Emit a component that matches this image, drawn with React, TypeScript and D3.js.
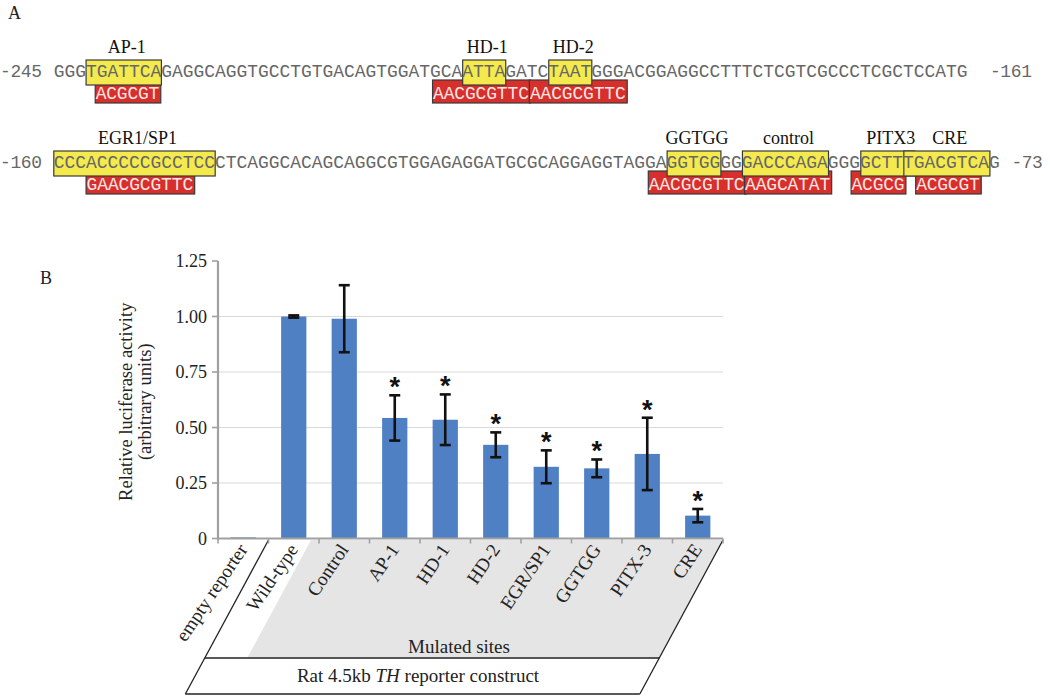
import React from "react";
import * as d3 from "d3";

// ---------- Panel A data ----------
const seqPrefixes = ["-245", "-160"];
const seqSuffixes = ["-161", "-73"];
const suffixGap = [2, 1]; // blank characters before the end coordinate
const seqLines = [
  "GGGTGATTCAGAGGCAGGTGCCTGTGACAGTGGATGCAATTAGATCTAATGGGACGGAGGCCTTTCTCGTCGCCCTCGCTCCATG",
  "CCCACCCCCGCCTCCCTCAGGCACAGCAGGCGTGGAGAGGATGCGCAGGAGGTAGGAGGTGGGGGACCCAGAGGGGCTTTGACGTCAG",
];
// binding sites: line, start index, length, label
const siteLine = [0, 0, 0, 1, 1, 1, 1, 1];
const siteStart = [3, 38, 46, 0, 57, 64, 75, 79];
const siteLen = [7, 4, 4, 15, 5, 8, 5, 8];
const siteLabel = ["AP-1", "HD-1", "HD-2", "EGR1/SP1", "GGTGG", "control", "PITX3", "CRE"];
// mutations: line, start (char units), replacement sequence
const mutLine = [0, 0, 0, 1, 1, 1, 1, 1];
const mutStart = [3.85, 35.2, 44.2, 3.0, 55.25, 64.2, 74.1, 80.1];
const mutSeq = ["ACGCGT", "AACGCGTTC", "AACGCGTTC", "GAACGCGTTC", "AACGCGTTC", "AAGCATAT", "ACGCG", "ACGCGT"];

// ---------- Panel B data ----------
const categories = ["empty reporter", "Wild-type", "Control", "AP-1", "HD-1", "HD-2", "EGR/SP1", "GGTGG", "PITX-3", "CRE"];
const values = [0.005, 1.0, 0.99, 0.543, 0.535, 0.422, 0.323, 0.316, 0.381, 0.103];
const errors = [0, 0.005, 0.151, 0.102, 0.114, 0.056, 0.074, 0.04, 0.163, 0.03];
const significant = [false, false, false, true, true, true, true, true, true, true];
const yTicks = [0, 0.25, 0.5, 0.75, 1.0, 1.25];
const yTickLabels = ["0", "0.25", "0.50", "0.75", "1.00", "1.25"];
const gridTicks = [0.25, 0.5, 0.75, 1.0];

const SERIF = "'Liberation Serif', 'Times New Roman', serif";
const MONO = "'Liberation Mono', 'DejaVu Sans Mono', monospace";

export default function App() {
  const W = 1050, H = 700;
  // Panel A layout
  const charW = 10.76;
  const monoSize = charW / 0.6001;
  const seqX0 = 0;
  const baselines = [77, 168];
  const seqStartX = seqX0 + 5 * charW;
  const cx = (i: number) => seqStartX + i * charW;

  // Panel B scales
  const y = d3.scaleLinear().domain([0, 1.25]).range([538.5, 261]);
  const x = d3.scaleBand<string>().domain(categories).range([218, 723]).paddingInner(0.5).paddingOuter(0.25);
  const step = x.step();
  const bw = x.bandwidth();
  const x0 = x.range()[0];
  const x1 = x.range()[1];
  const boundaries = d3.range(categories.length + 1).map((i) => x0 + i * step);
  const axisY = y(0);

  // bottom annotation geometry
  const topY = axisY + 1.5;
  const midY = 658;
  const botY = 694;
  const slope = -0.54; // dx per dy
  const leftTop = boundaries[1];
  const rightTop = x1;
  const lx = (yy: number) => leftTop + slope * (yy - topY);
  const rx = (yy: number) => rightTop + slope * (yy - topY);
  const grayTop = boundaries[2] - 8;
  const gx = (yy: number) => grayTop + slope * (yy - topY);

  return (
    <svg width={W} height={H} style={{ position: "absolute", left: 0, top: 0, background: "#fff" }}>
      {/* Panel labels */}
      <text x={8} y={19} fontFamily={SERIF} fontSize={18} fill="#222">A</text>
      <text x={40} y={284} fontFamily={SERIF} fontSize={18} fill="#222">B</text>

      {/* ---------- Panel A ---------- */}
      {/* red mutation boxes */}
      {mutSeq.map((m, i) => {
        const b = baselines[mutLine[i]];
        const xs = cx(mutStart[i]);
        const w = m.length * charW + 1;
        return (
          <g key={"m" + i}>
            <rect x={xs} y={b + 3} width={w} height={23} fill="#d62f2c" stroke="#3a3a3a" strokeWidth={1.2} />
            <text x={xs + 0.5} y={b + 21.5} fontFamily={MONO} fontSize={monoSize} fill="#fbe6e4"
              textLength={m.length * charW - 1} lengthAdjust="spacing">{m}</text>
          </g>
        );
      })}
      {/* yellow site boxes */}
      {siteLabel.map((lab, i) => {
        const b = baselines[siteLine[i]];
        const xs = cx(siteStart[i]);
        const w = siteLen[i] * charW;
        return (
          <rect key={"s" + i} x={xs} y={b - 17} width={w} height={25} fill="#f4ea4e" stroke="#3a3a3a" strokeWidth={1.2} />
        );
      })}
      {/* sequence text */}
      {seqLines.map((s, li) => (
        <g key={"q" + li} fontFamily={MONO} fontSize={monoSize} fill="#676767">
          <text x={seqX0} y={baselines[li]} textLength={seqPrefixes[li].length * charW - 1} lengthAdjust="spacing">
            {seqPrefixes[li]}
          </text>
          <text x={seqStartX} y={baselines[li]} textLength={s.length * charW - 1} lengthAdjust="spacing">
            {s}
          </text>
          <text x={cx(s.length + suffixGap[li])} y={baselines[li]}
            textLength={seqSuffixes[li].length * charW - 1} lengthAdjust="spacing">
            {seqSuffixes[li]}
          </text>
        </g>
      ))}
      {/* site labels */}
      {siteLabel.map((lab, i) => {
        const b = baselines[siteLine[i]];
        const xc = cx(siteStart[i] + siteLen[i] / 2) + 3;
        return (
          <text key={"l" + i} x={xc} y={b - 24} textAnchor="middle" fontFamily={SERIF} fontSize={18} fill="#111">{lab}</text>
        );
      })}

      {/* ---------- Panel B ---------- */}
      {/* gridlines */}
      {gridTicks.map((t) => (
        <line key={"g" + t} x1={x0} x2={x1} y1={y(t)} y2={y(t)} stroke="#d9d9d9" strokeWidth={1.2} />
      ))}
      {/* bars */}
      {categories.map((c, i) => (
        <rect key={"b" + c} x={x(c)} y={y(values[i])} width={bw} height={axisY - y(values[i])} fill="#5080c4" />
      ))}
      {/* error bars */}
      {categories.map((c, i) => {
        if (errors[i] <= 0) return null;
        const xc = (x(c) as number) + bw / 2;
        const yt = y(values[i] + errors[i]);
        const yb = y(values[i] - errors[i]);
        return (
          <g key={"e" + c} stroke="#111" strokeWidth={2.6}>
            <line x1={xc} x2={xc} y1={yt} y2={yb} />
            <line x1={xc - 5.5} x2={xc + 5.5} y1={yt} y2={yt} />
            <line x1={xc - 5.5} x2={xc + 5.5} y1={yb} y2={yb} />
          </g>
        );
      })}
      {/* significance stars */}
      {categories.map((c, i) => {
        if (!significant[i]) return null;
        const xc = (x(c) as number) + bw / 2;
        const yt = y(values[i] + errors[i]);
        return (
          <text key={"st" + c} x={xc} y={yt + 1} textAnchor="middle" fontFamily="'Liberation Sans', Arial, sans-serif"
            fontWeight="bold" fontSize={27} fill="#111">*</text>
        );
      })}

      {/* bottom annotation: gray region */}
      <polygon points={`${grayTop},${topY} ${rightTop},${topY} ${rx(midY)},${midY} ${gx(midY)},${midY}`} fill="#e5e5e5" />
      <line x1={leftTop} y1={topY} x2={lx(botY)} y2={botY} stroke="#222" strokeWidth={1.3} />
      <line x1={rightTop} y1={topY} x2={rx(botY)} y2={botY} stroke="#222" strokeWidth={1.3} />
      <line x1={lx(midY)} y1={midY} x2={rx(midY)} y2={midY} stroke="#222" strokeWidth={1.3} />
      <line x1={lx(botY)} y1={botY} x2={rx(botY)} y2={botY} stroke="#222" strokeWidth={1.3} />

      {/* axes */}
      <line x1={x0} x2={x1} y1={axisY} y2={axisY} stroke="#a0a0a0" strokeWidth={2.2} />
      <line x1={x0} x2={x0} y1={y(1.25)} y2={axisY + 1} stroke="#a0a0a0" strokeWidth={2.2} />
      {boundaries.map((bx, i) => (
        <line key={"xt" + i} x1={bx} x2={bx} y1={axisY} y2={axisY + 5} stroke="#a0a0a0" strokeWidth={1.6} />
      ))}
      {yTicks.map((t, i) => (
        <g key={"yt" + t}>
          <line x1={x0 - 6} x2={x0} y1={y(t)} y2={y(t)} stroke="#a0a0a0" strokeWidth={1.6} />
          <text x={x0 - 11} y={y(t)} dy="0.34em" textAnchor="end" fontFamily={SERIF} fontSize={18} fill="#222">{yTickLabels[i]}</text>
        </g>
      ))}

      {/* y axis title */}
      <text transform={`translate(132,${(y(0) + y(1.25)) / 2 + 2}) rotate(-90)`} textAnchor="middle" fontFamily={SERIF} fontSize={18.5} fill="#222">
        Relative luciferase activity
      </text>
      <text transform={`translate(151,${(y(0) + y(1.25)) / 2 + 2}) rotate(-90)`} textAnchor="middle" fontFamily={SERIF} fontSize={18.5} fill="#222">
        (arbitrary units)
      </text>

      {/* category labels */}
      {categories.map((c) => {
        const xc = (x(c) as number) + bw / 2;
        return (
          <text key={"xl" + c} transform={`translate(${xc + 5},${axisY + 11}) rotate(-56)`} textAnchor="end"
            fontFamily={SERIF} fontSize={19} fill="#222">{c}</text>
        );
      })}

      {/* group labels */}
      <text x={459} y={653} textAnchor="middle" fontFamily={SERIF} fontSize={19} fill="#222">Mulated sites</text>
      <text x={418} y={682} textAnchor="middle" fontFamily={SERIF} fontSize={19} fill="#222">
        Rat 4.5kb <tspan fontStyle="italic">TH</tspan> reporter construct
      </text>
    </svg>
  );
}
